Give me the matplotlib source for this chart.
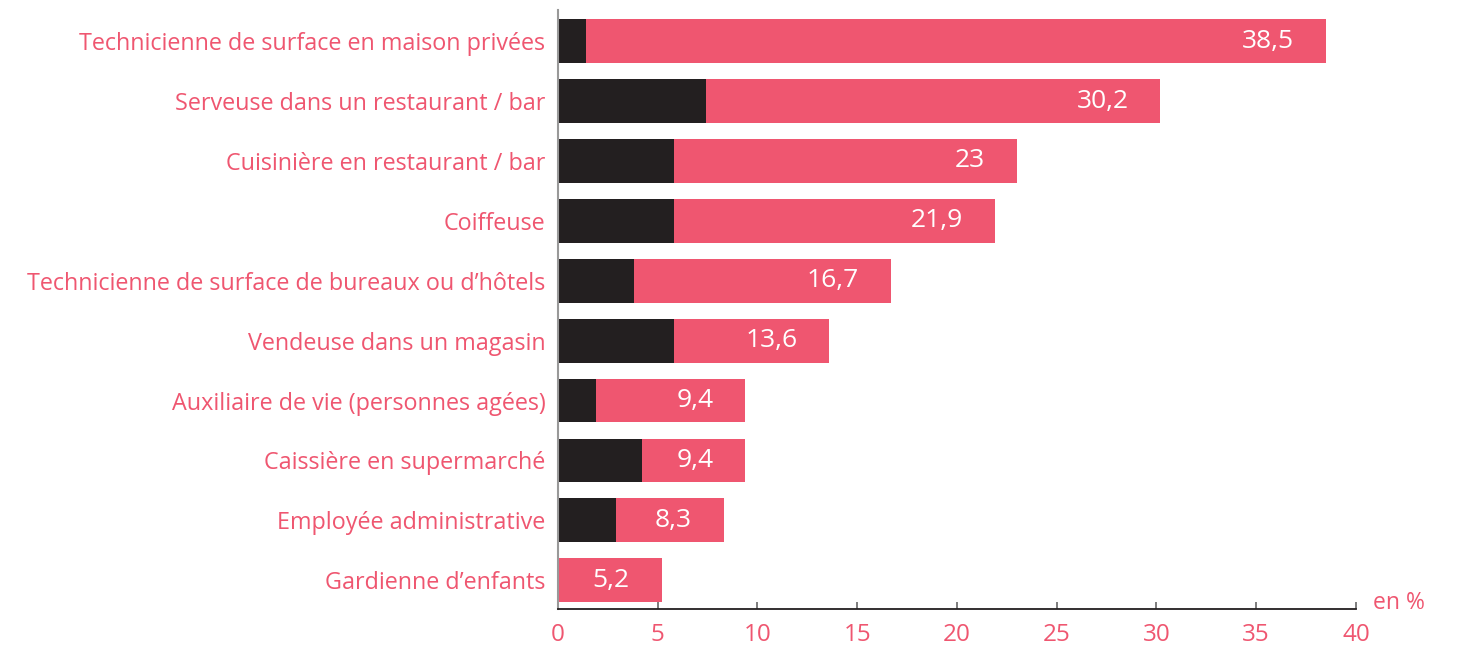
import matplotlib
matplotlib.use("Agg")
import matplotlib.pyplot as plt

# ── Data ────────────────────────────────────────────────────────────────
categories = [
    "Technicienne de surface en maison privées",
    "Serveuse dans un restaurant / bar",
    "Cuisinière en restaurant / bar",
    "Coiffeuse",
    "Technicienne de surface de bureaux ou d’hôtels",
    "Vendeuse dans un magasin",
    "Auxiliaire de vie (personnes agées)",
    "Caissière en supermarché",
    "Employée administrative",
    "Gardienne d’enfants",
]
totals = [38.5, 30.2, 23, 21.9, 16.7, 13.6, 9.4, 9.4, 8.3, 5.2]
dark_part = [1.4, 7.4, 5.8, 5.8, 3.8, 5.8, 1.9, 4.2, 2.9, 0.0]
value_labels = ["38,5", "30,2", "23", "21,9", "16,7", "13,6", "9,4", "9,4", "8,3", "5,2"]
x_ticks = [0, 5, 10, 15, 20, 25, 30, 35, 40]

PINK = "#EF5670"
DARK = "#231F20"

plt.rcParams["font.family"] = ["Open Sans", "DejaVu Sans"]

fig = plt.figure(figsize=(14.58, 6.45), dpi=100)
ax = fig.add_axes([0.3827, 0.0558, 0.930 - 0.3827, 0.9845 - 0.0558])

ypos = list(range(len(categories)))
ax.barh(ypos, totals, height=0.73, color=PINK, edgecolor="none")
ax.barh(ypos, dark_part, height=0.73, color=DARK, edgecolor="none")

for y, v, lab in zip(ypos, totals, value_labels):
    ax.annotate(lab, xy=(v, y), xytext=(-23, 0), textcoords="offset points",
                ha="right", va="center", color="white", fontsize=19)

ax.set_xlim(0, 40)
ax.set_ylim(len(categories) - 0.52, -0.52)
ax.set_yticks(ypos)
ax.set_yticklabels(categories)
ax.set_xticks(x_ticks)

ax.tick_params(axis="y", length=0, pad=9, labelsize=16.8, labelcolor=PINK)
ax.tick_params(axis="x", direction="in", length=5, width=1.2, color="#666666",
               pad=10, labelsize=17.5, labelcolor=PINK)

for side in ["top", "right"]:
    ax.spines[side].set_visible(False)
ax.spines["left"].set_color("#999999")
ax.spines["left"].set_linewidth(1.5)
ax.spines["bottom"].set_color(DARK)
ax.spines["bottom"].set_linewidth(1.3)

ax.text(1.022, -0.01, "en %", transform=ax.transAxes, ha="left", va="bottom",
        color=PINK, fontsize=16.5)

fig.savefig("out.png", dpi=100)
